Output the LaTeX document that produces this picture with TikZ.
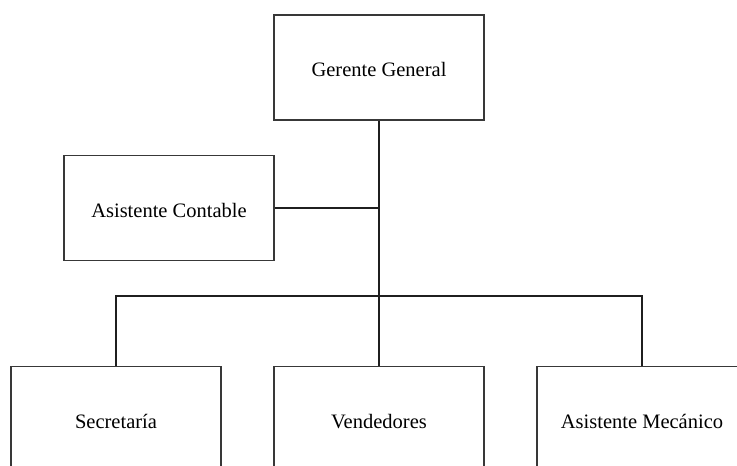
\documentclass[tikz,border=0pt]{standalone}
\usepackage{fontspec}
\setmainfont{Liberation Serif}
\begin{document}
\begin{tikzpicture}[x=1pt,y=-1pt,
  unitbox/.style={draw=black!78, line width=1.8pt, fill=white,
    minimum width=210pt, minimum height=105pt, inner sep=0pt,
    text height=18pt, text depth=0pt,
    font=\fontsize{20.5}{24}\selectfont},
  link/.style={draw=black!88, line width=1.8pt}]
  \path[use as bounding box, clip] (0,0) rectangle (737,466);
  % Nodes of the chart
  \node[unitbox] (gg) at (379,67.5) {Gerente General};
  \node[unitbox] (ac) at (169,208) {Asistente Contable};
  \node[unitbox] (sec) at (116,419) {Secretaría};
  \node[unitbox] (ven) at (379,419) {Vendedores};
  \node[unitbox] (mec) at (642,419) {Asistente Mecánico};
  \coordinate (bus) at (379,296);
  % Connectors
  \draw[link] (gg.south) -- (ven.north);
  \draw[link] (ac.east) -- (ac.east -| gg.south);
  \draw[link] (sec.north) |- (bus) -| (mec.north);
\end{tikzpicture}
\end{document}
